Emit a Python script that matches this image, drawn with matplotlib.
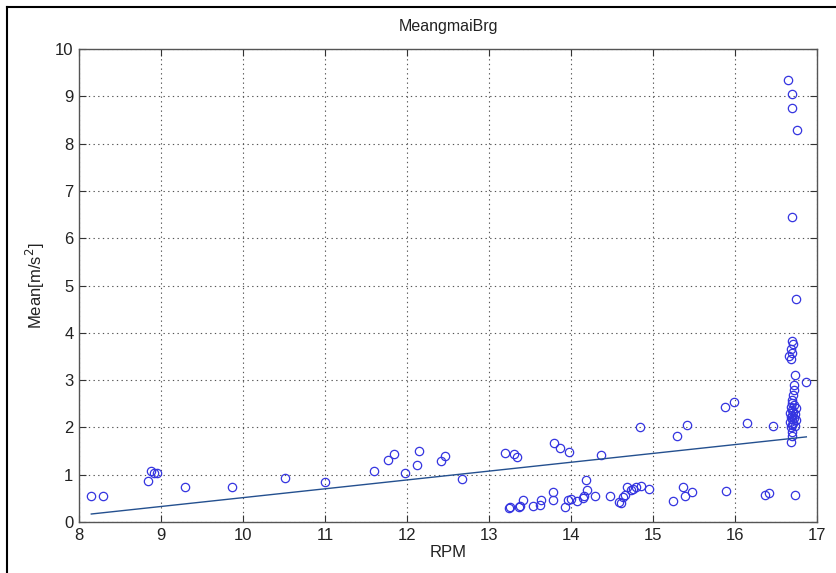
import matplotlib
matplotlib.use("Agg")
import matplotlib.pyplot as plt
from matplotlib.lines import Line2D
import numpy as np

plt.rcParams['font.family'] = ['Liberation Sans', 'DejaVu Sans']

# Bearing mean acceleration versus shaft speed
rpm = [
    8.15, 8.29, 8.84, 8.88, 8.91, 8.95, 9.29, 9.87, 10.51, 11.00,
    11.60, 11.77, 11.84, 11.98, 12.12, 12.15, 12.41, 12.46, 12.67,
    13.20, 13.30, 13.34, 13.79, 13.87, 13.97, 14.37,
    13.24, 13.26, 13.36, 13.38, 13.42, 13.54, 13.62, 13.63, 13.78, 13.78,
    13.93, 13.96, 14.00, 14.07, 14.15, 14.16, 14.18, 14.20, 14.29, 14.47,
    14.58, 14.61, 14.63, 14.66, 14.68, 14.73, 14.76, 14.79, 14.85, 14.95,
    14.84, 15.24, 15.29, 15.36, 15.39, 15.42, 15.48, 15.88, 15.89, 15.99,
    16.15, 16.37, 16.41, 16.46, 16.73, 16.87,
    16.65, 16.70, 16.69, 16.75, 16.70, 16.74,
    16.69, 16.71, 16.68, 16.70, 16.66, 16.68,
    16.73, 16.72, 16.72, 16.71, 16.70,
    16.70, 16.72, 16.68, 16.74, 16.69, 16.71, 16.67, 16.73, 16.70, 16.68,
    16.72, 16.69, 16.74, 16.67, 16.71, 16.70, 16.73, 16.68,
    16.70, 16.69, 16.68,
]
mean_acc = [
    0.54, 0.56, 0.87, 1.08, 1.04, 1.03, 0.74, 0.74, 0.94, 0.84,
    1.07, 1.31, 1.44, 1.03, 1.20, 1.51, 1.29, 1.40, 0.91,
    1.45, 1.44, 1.38, 1.66, 1.56, 1.49, 1.42,
    0.29, 0.31, 0.31, 0.34, 0.46, 0.34, 0.36, 0.46, 0.64, 0.46,
    0.31, 0.46, 0.48, 0.45, 0.50, 0.55, 0.89, 0.68, 0.56, 0.54,
    0.43, 0.41, 0.52, 0.57, 0.73, 0.68, 0.70, 0.73, 0.76, 0.70,
    2.01, 0.45, 1.82, 0.73, 0.55, 2.06, 0.63, 2.44, 0.66, 2.53,
    2.10, 0.57, 0.61, 2.04, 0.57, 2.97,
    9.34, 9.05, 8.75, 8.29, 6.45, 4.71,
    3.82, 3.76, 3.66, 3.58, 3.50, 3.44,
    3.10, 2.90, 2.80, 2.68, 2.58,
    2.52, 2.47, 2.44, 2.40, 2.36, 2.33, 2.30, 2.28, 2.25, 2.22,
    2.20, 2.17, 2.15, 2.12, 2.10, 2.06, 2.03, 2.01,
    1.91, 1.82, 1.70,
]

# Linear trend: mean = slope * rpm + intercept
fit_slope = 0.187
fit_intercept = -1.355
fit_range = [8.15, 16.87]

x_ticks = [8, 9, 10, 11, 12, 13, 14, 15, 16, 17]
y_ticks = [0, 1, 2, 3, 4, 5, 6, 7, 8, 9, 10]

fig = plt.figure(figsize=(8.36, 5.73), dpi=100)
fig.patch.set_facecolor('white')
ax = fig.add_axes([79 / 836, 51 / 573, (817 - 79) / 836, (522 - 49) / 573])

ax.plot(rpm, mean_acc, linestyle='none', marker='o', markersize=6,
        markerfacecolor='none', markeredgecolor='#3535e0', markeredgewidth=0.9)

fx = np.array(fit_range)
ax.plot(fx, fit_slope * fx + fit_intercept, color='#24508f', linewidth=1.0)

ax.set_xlim(8, 17)
ax.set_ylim(0, 10)
ax.set_xticks(x_ticks)
ax.set_yticks(y_ticks)
ax.tick_params(direction='in', length=5, top=True, right=True,
               labelsize=12, colors='#333333', labelcolor='#222222', pad=4)
ax.grid(True, color='#555555', linestyle=(0, (1.2, 3)), linewidth=0.8)
for s in ax.spines.values():
    s.set_color('#555555')
    s.set_linewidth(1.0)

ax.set_title('MeangmaiBrg', fontsize=11.5, color='#222222', pad=13)
ax.set_xlabel('RPM', fontsize=12, color='#222222', labelpad=2)
ax.set_ylabel('Mean[m/s$^2$]', fontsize=12, color='#222222', labelpad=6)

# window frame
fig.add_artist(Line2D([7 / 836, 7 / 836], [0, 1 - 7 / 573], transform=fig.transFigure,
                      color='black', linewidth=1.5))
fig.add_artist(Line2D([7 / 836, 1], [1 - 7 / 573, 1 - 7 / 573], transform=fig.transFigure,
                      color='black', linewidth=1.5))

fig.savefig('out.png', dpi=100)
